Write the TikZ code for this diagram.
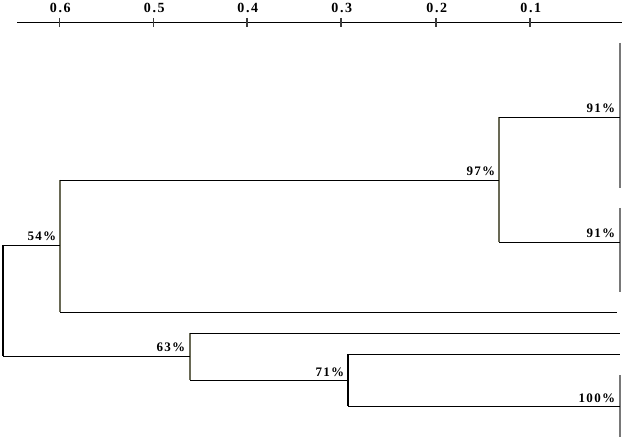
\documentclass[tikz,border=0pt]{standalone}
\usepackage{fontspec}
\setmainfont{Liberation Serif}
\newfontfamily\labfont[LetterSpace=10]{Liberation Serif}
\newfontfamily\axfont[LetterSpace=12]{Liberation Serif}
\begin{document}
\begin{tikzpicture}[x=1pt,y=-1pt,
  hline/.style={draw=black,line width=0.9pt},
  vline/.style={draw={rgb,255:red,105;green,105;blue,85},line width=1.1pt},
  leafline/.style={draw={rgb,255:red,120;green,120;blue,120},line width=1.4pt},
  axisline/.style={draw=black,line width=0.8pt},
  tickmark/.style={draw={rgb,255:red,60;green,60;blue,60},line width=1.3pt},
  ticklab/.style={font=\axfont\bfseries\fontsize{14}{14}\selectfont,inner sep=0pt,anchor=base,xshift=0.8pt},
  pct/.style={font=\labfont\bfseries\fontsize{13}{13}\selectfont,inner sep=0pt,anchor=base east,xshift=1.3pt}]
\useasboundingbox (0,0) rectangle (626,443);
\fill[white] (0,0) rectangle (626,443);
% axis
\coordinate (axL) at (17,22);
\coordinate (axR) at (622,22);
\draw[axisline] (axL) -- (axR);
\foreach \x/\l/\n in {59.5/0.6/6,153.5/0.5/5,247/0.4/4,341/0.3/3,436/0.2/2,530/0.1/1}{
  \coordinate (t\n) at (\x,22);
  \draw[tickmark] ([yshift=4pt]t\n) -- ([yshift=-5pt]t\n);
  \node[ticklab] (lab\n) at ([yshift=9pt]t\n) {\l};
}
% junctions
\coordinate (j54) at (3,245);
\coordinate (j60) at (60,245);
\coordinate (j97) at (499,180);
\coordinate (j63) at (190,356);
\coordinate (j71) at (348,380);
% leaves
\coordinate (lA) at (620,117);
\coordinate (lB) at (620,242);
\coordinate (lC) at (617,312);
\coordinate (lD) at (620,333);
\coordinate (lE) at (620,354);
\coordinate (lF) at (620,406);
% leaf bars
\draw[leafline] (620,43) -- (620,188);
\draw[leafline] (620,208) -- (620,292);
\draw[leafline] (620,375) -- (620,437);
% vertical branches
\draw[vline] (60,180) -- (60,312);
\draw[vline] (499,117) -- (499,242);
\draw[vline,draw=black] (3,245) -- (3,356);
\draw[vline] (190,333) -- (190,380);
\draw[vline,draw=black,line width=1.5pt] (348,354) -- (348,406);
% horizontal branches
\draw[hline] (j54) -- (j60);
\draw[hline] (60,180) -- (j97);
\draw[hline] (499,117) -- (lA);
\draw[hline] (499,242) -- (lB);
\draw[hline] (60,312) -- (lC);
\draw[hline] (j54 |- j63) -- (j63);
\draw[hline] (190,333) -- (lD);
\draw[hline] (190,380) -- (j71);
\draw[hline] (348,354) -- (lE);
\draw[hline] (348,406) -- (lF);
% labels
\node[pct] (p91a) at (614,113) {91\%};
\node[pct] (p97) at (494,176) {97\%};
\node[pct] (p91b) at (614,238) {91\%};
\node[pct] (p54) at (55,241) {54\%};
\node[pct] (p63) at (184,352) {63\%};
\node[pct] (p71) at (343,376) {71\%};
\node[pct] (p100) at (614,402) {100\%};
\end{tikzpicture}
\end{document}
